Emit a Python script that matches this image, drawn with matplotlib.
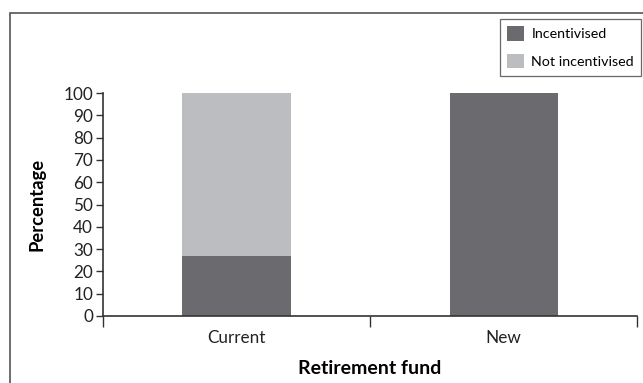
import matplotlib
matplotlib.use("Agg")
import matplotlib.pyplot as plt
from matplotlib.patches import Rectangle, Patch

plt.rcParams['font.family'] = ['Lato', 'DejaVu Sans']

categories = ["Current", "New"]
incentivised = [27, 100]
not_incentivised = [73, 0]
series_names = ["Incentivised", "Not incentivised"]
yticks = [0, 10, 20, 30, 40, 50, 60, 70, 80, 90, 100]

dark = "#6b6b6f"
light = "#bcbdc0"

fig = plt.figure(figsize=(6.43, 3.83), dpi=100)
ax = fig.add_axes([0.160, 0.175, 0.831, 0.582])

x = list(range(len(categories)))
ax.bar(x, incentivised, width=0.405, color=dark, zorder=2)
ax.bar(x, not_incentivised, width=0.405, bottom=incentivised, color=light, zorder=2)

ax.set_xlim(-0.5, len(categories) - 0.5)
ax.set_ylim(0, 100)
ax.set_yticks(yticks)
ax.tick_params(axis='y', direction='out', length=5, width=1, color='#333333',
               labelsize=12.3, pad=2, labelcolor='#222222')

# category labels centred between boundary ticks
ax.set_xticks([i - 0.5 for i in range(len(categories) + 1)])
ax.set_xticklabels([])
ax.set_xticks(x, minor=True)
ax.set_xticklabels(categories, minor=True, fontsize=12.3, color='#222222')
ax.tick_params(axis='x', which='major', direction='out', length=8, width=1, color='#333333')
ax.tick_params(axis='x', which='minor', length=0, pad=10)

for s in ['top', 'right']:
    ax.spines[s].set_visible(False)
for s in ['left', 'bottom']:
    ax.spines[s].set_color('#333333')
    ax.spines[s].set_linewidth(1.2)

ax.set_ylabel("Percentage", fontsize=13.2, fontweight='bold', labelpad=13)
ax.set_xlabel("Retirement fund", fontsize=14, fontweight='bold', labelpad=10)

handles = [Patch(facecolor=dark, edgecolor='none'), Patch(facecolor=light, edgecolor='none')]
leg = fig.legend(handles, series_names, loc='upper left',
                 bbox_to_anchor=(500 / 643, 1 - 19 / 383), fontsize=10.3,
                 frameon=True, fancybox=False, edgecolor='#444444',
                 handlelength=1.2, handleheight=1.2, handletextpad=0.5,
                 labelspacing=0.9, borderpad=0.5, borderaxespad=0)
leg.get_frame().set_linewidth(0.9)

# outer chart frame
fig.patches.append(Rectangle((10 / 643, -0.1), 1.2, 1 - 13 / 383 + 0.1,
                             transform=fig.transFigure, fill=False,
                             edgecolor='#555555', linewidth=1.2, zorder=0))

fig.savefig("out.png", dpi=100)
